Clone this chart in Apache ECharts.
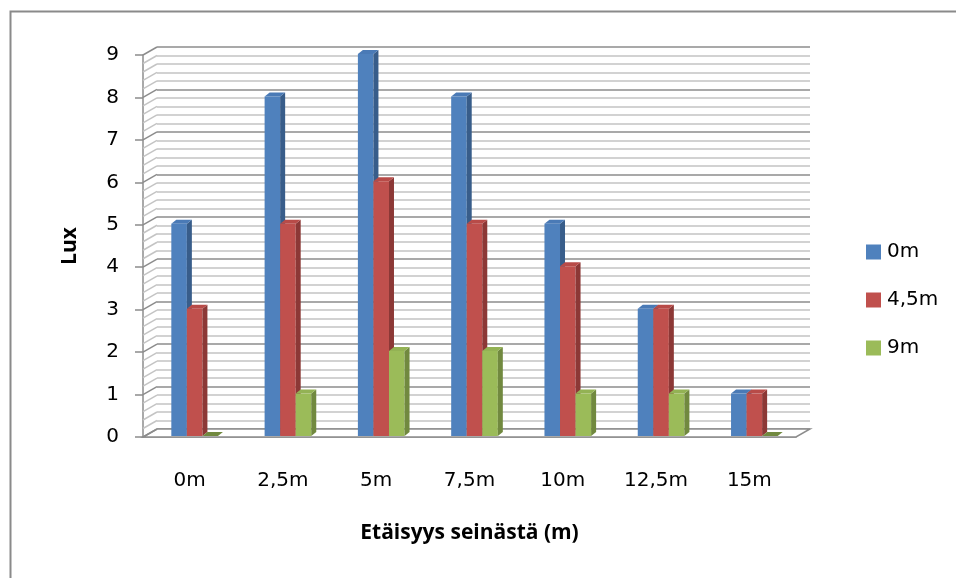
<!DOCTYPE html>
<html>
<head>
<meta charset="utf-8">
<script src="https://cdn.jsdelivr.net/npm/echarts@6/dist/echarts.min.js"></script>
<style>
  html, body { margin: 0; padding: 0; background: #fff; }
  #chart { width: 956px; height: 578px; }
</style>
</head>
<body>
<div id="chart"></div>
<script>
// Illuminance readings (lux) by distance from the wall, one series per measuring line
var categories = ['0m', '2,5m', '5m', '7,5m', '10m', '12,5m', '15m'];
var seriesNames = ['0m', '4,5m', '9m'];
var lux0 = [5, 8, 9, 8, 5, 3, 1];
var lux45 = [3, 5, 6, 5, 4, 3, 1];
var lux9 = [0, 1, 2, 2, 1, 1, 0];
var yTicks = [0, 1, 2, 3, 4, 5, 6, 7, 8, 9];

var FONT = '"DejaVu Sans", sans-serif';
var TITLE_FONT = '"Open Sans", "Noto Sans", sans-serif';
var frontColors = ['#4F81BD', '#C0504D', '#9BBB59'];
var sideColors = ['#385D8A', '#8C3836', '#71893F'];
var topColors = ['#4A7AB6', '#B84B48', '#93B254'];

// oblique depth of the plot box (back wall offset from the front plane)
var DX = 14, DY = -8;
// bar depth
var BDX = 5, BDY = -4;

function barSeries(idx, values) {
  return {
    type: 'custom',
    name: seriesNames[idx],
    xAxisIndex: 0, yAxisIndex: 0,
    z: 10 + idx,
    itemStyle: { color: frontColors[idx] },
    data: values.map(function (v, i) { return [i, v]; }),
    renderItem: function (params, api) {
      var ci = api.value(0), v = api.value(1);
      var catW = api.size([1, 0])[0];
      var w = catW / 6;
      var base = api.coord([ci, 0]);
      var topP = api.coord([ci, v]);
      var x = base[0] - 1.5 * w + 5 + idx * w;
      var yb = base[1] - 1, yt = topP[1] - 1;
      var children = [];
      if (v > 0) {
        children.push({
          type: 'rect',
          shape: { x: x, y: yt, width: w, height: yb - yt },
          style: { fill: frontColors[idx] }
        });
        children.push({
          type: 'polygon',
          shape: { points: [[x + w, yt], [x + w + BDX, yt + BDY], [x + w + BDX, yb + BDY], [x + w, yb]] },
          style: { fill: sideColors[idx] }
        });
      }
      children.push({
        type: 'polygon',
        shape: { points: [[x, yt], [x + BDX, yt + BDY], [x + w + BDX, yt + BDY], [x + w, yt]] },
        style: { fill: v > 0 ? topColors[idx] : sideColors[idx] }
      });
      return { type: 'group', children: children };
    }
  };
}

// floor of the plot box and the lines on its left side wall
var wallSeries = {
  type: 'custom',
  xAxisIndex: 0, yAxisIndex: 0,
  silent: true,
  z: 2,
  data: [[0, 0]],
  renderItem: function (params, api) {
    var cs = params.coordSys;
    var children = [];
    var x0 = cs.x, x1 = cs.x + cs.width;
    var yb = cs.y + cs.height;
    children.push({
      type: 'polygon',
      shape: { points: [[x0, yb], [x1, yb], [x1 + DX, yb + DY], [x0 + DX, yb + DY]] },
      style: { fill: '#fff', stroke: '#8c8c8c', lineWidth: 1.5 }
    });
    var max = yTicks[yTicks.length - 1];
    for (var k = 0; k <= max * 5; k++) {
      var val = k / 5;
      var p = api.coord([0, val]);
      var major = (k % 5 === 0);
      children.push({
        type: 'line',
        shape: { x1: x0, y1: p[1], x2: x0 + DX, y2: p[1] + DY },
        style: { stroke: major ? '#8c8c8c' : '#c4c4c4', lineWidth: 1.5 }
      });
    }
    return { type: 'group', children: children };
  }
};

var chart = echarts.init(document.getElementById('chart'), null, { renderer: 'canvas' });
chart.setOption({
  backgroundColor: '#fff',
  animation: false,
  textStyle: { fontFamily: FONT },
  graphic: [{
    type: 'rect',
    left: 8, top: 9,
    shape: { width: 1000, height: 1000 },
    style: { fill: 'none', stroke: '#8a8a8a', lineWidth: 2 },
    z: -1
  }],
  legend: {
    orient: 'vertical',
    left: 866, top: 242,
    padding: 0,
    itemWidth: 15, itemHeight: 15,
    itemGap: 28,
    icon: 'rect',
    data: seriesNames,
    textStyle: { fontSize: 20, lineHeight: 15, color: '#000', fontFamily: FONT, padding: [0, 0, 0, 1] }
  },
  grid: [
    { left: 143, right: 160, top: 55, bottom: 141 },
    { left: 157, right: 146, top: 47, bottom: 149 }
  ],
  xAxis: [
    {
      type: 'category', gridIndex: 0, data: categories,
      axisLine: { show: true, lineStyle: { color: '#8c8c8c', width: 1.5 } },
      axisTick: { show: false },
      axisLabel: { fontSize: 20, color: '#000', margin: 34, fontFamily: FONT },
      name: 'Etäisyys seinästä (m)',
      nameLocation: 'middle', nameGap: 86,
      nameMoveOverlap: false,
      nameTextStyle: { fontSize: 21, fontWeight: 'bold', color: '#000', fontFamily: TITLE_FONT }
    },
    {
      type: 'category', gridIndex: 1, data: categories, show: false
    }
  ],
  yAxis: [
    {
      type: 'value', gridIndex: 0, min: 0, max: 9, interval: 1,
      axisLine: { show: true, lineStyle: { color: '#8c8c8c', width: 1.5 } },
      axisTick: { show: true, length: 8, lineStyle: { color: '#8c8c8c', width: 1.5 } },
      axisLabel: {
        fontSize: 20, color: '#000', margin: 24, fontFamily: FONT,
        formatter: function (v) { return yTicks.indexOf(v) >= 0 ? String(v) : ''; }
      },
      splitLine: { show: false },
      name: 'Lux',
      nameLocation: 'middle', nameGap: 62, nameRotate: 90,
      nameMoveOverlap: false,
      nameTextStyle: { fontSize: 21, fontWeight: 'bold', color: '#000', fontFamily: TITLE_FONT }
    },
    {
      type: 'value', gridIndex: 1, min: 0, max: 9, interval: 1,
      axisLine: { show: false }, axisTick: { show: false }, axisLabel: { show: false },
      splitLine: { show: true, lineStyle: { color: '#8c8c8c', width: 1.5 } },
      minorTick: { show: false, splitNumber: 5 },
      minorSplitLine: { show: true, lineStyle: { color: '#c4c4c4', width: 1.5 } }
    }
  ],
  series: [
    wallSeries,
    barSeries(0, lux0),
    barSeries(1, lux45),
    barSeries(2, lux9)
  ]
});
</script>
</body>
</html>
